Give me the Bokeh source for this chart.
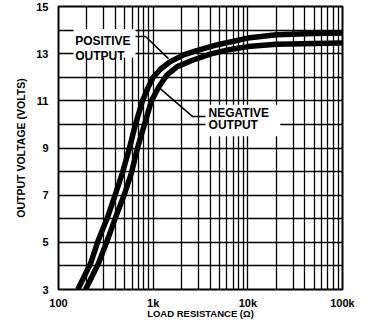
from bokeh.plotting import figure
from bokeh.models import FixedTicker, Label, BoxAnnotation, Range1d
from bokeh.embed import file_html
from bokeh.resources import INLINE

# ---- data ----
pos_r = [160, 218, 264, 329, 400, 474, 562, 650, 771, 880, 1000, 1200, 1500, 2100,
         3000, 4800, 10000, 20000, 50000, 100000]
pos_v = [3.0, 4.1, 5.1, 6.05, 7.05, 7.95, 9.0, 10.0, 11.0, 11.55, 12.0, 12.35, 12.65, 12.95,
         13.15, 13.38, 13.66, 13.8, 13.86, 13.88]

neg_r = [193, 264, 329, 400, 498, 590, 683, 809, 960, 1150, 1400, 1800, 2600, 4000,
         6500, 10000, 20000, 50000, 100000]
neg_v = [3.0, 4.1, 5.1, 6.05, 7.05, 7.95, 9.0, 10.0, 11.0, 11.6, 12.1, 12.45, 12.72, 12.98,
         13.18, 13.3, 13.4, 13.43, 13.45]

x_ticks = [100, 1000, 10000, 100000]
x_tick_labels = ["100", "1k", "10k", "100k"]
y_ticks = [3, 5, 7, 9, 11, 13, 15]
y_minor = [4, 6, 8, 10, 12, 14]
x_minor = [k * d for d in (100, 1000, 10000) for k in range(2, 10)]

x_title = "LOAD RESISTANCE (\u03a9)"
y_title = "OUTPUT VOLTAGE (VOLTS)"

FONT = "Liberation Sans"

p = figure(width=369, height=332, x_axis_type="log",
           x_range=Range1d(100, 100000), y_range=Range1d(3, 15),
           output_backend="svg", toolbar_location=None,
           min_border_left=58, min_border_right=27, min_border_top=6, min_border_bottom=43)

p.background_fill_color = "white"
p.border_fill_color = "white"
p.outline_line_color = "black"
p.outline_line_width = 2

p.xaxis.ticker = FixedTicker(ticks=x_ticks, minor_ticks=x_minor)
p.yaxis.ticker = FixedTicker(ticks=y_ticks, minor_ticks=y_minor)
p.xaxis.major_label_overrides = {t: l for t, l in zip(x_ticks, x_tick_labels)}

for ax in (p.xaxis, p.yaxis):
    ax.axis_line_color = None
    ax.major_tick_line_color = None
    ax.minor_tick_line_color = None
    ax.major_tick_out = 0
    ax.major_tick_in = 0
    ax.minor_tick_out = 0
    ax.minor_tick_in = 0
    ax.major_label_text_font = FONT
    ax.major_label_text_font_style = "bold"
    ax.major_label_text_font_size = "11px"
    ax.major_label_text_color = "black"
    ax.axis_label_text_font = FONT
    ax.axis_label_text_font_style = "bold"
    ax.axis_label_text_color = "black"

p.xaxis.major_label_standoff = 7
p.yaxis.major_label_standoff = 10
p.xaxis.axis_label = x_title
p.yaxis.axis_label = y_title
p.xaxis.axis_label_text_font_size = "9.5px"
p.yaxis.axis_label_text_font_size = "10.5px"
p.xaxis.axis_label_standoff = -4
p.yaxis.axis_label_standoff = 6

for g in (p.xgrid, p.ygrid):
    g.grid_line_color = "black"
    g.grid_line_width = 1.3
    g.grid_line_alpha = 1
    g.minor_grid_line_color = "black"
    g.minor_grid_line_width = 1.3
    g.minor_grid_line_alpha = 1

# curves
p.line(pos_r, pos_v, line_color="black", line_width=5.5, line_join="round")
p.line(neg_r, neg_v, line_color="black", line_width=5.5, line_join="round")

# label backgrounds (hide grid under text)
p.add_layout(BoxAnnotation(left=144, right=651, bottom=12.83, top=14.05,
                           fill_color="white", fill_alpha=1, line_color=None))
p.add_layout(BoxAnnotation(left=3570, right=22000, bottom=9.5, top=10.83,
                           fill_color="white", fill_alpha=1, line_color=None))

# leader lines
p.line([606, 830, 1450], [13.73, 13.73, 12.79], line_color="black", line_width=1.5)
p.line([1138, 2595, 3730], [11.58, 10.34, 10.34], line_color="black", line_width=1.5)

def lab(x, y, t):
    p.add_layout(Label(x=x, y=y, text=t, text_font=FONT, text_font_style="bold",
                       text_font_size="12px", text_color="black",
                       text_baseline="alphabetic", text_align="left"))

lab(150, 13.52, "POSITIVE")
lab(150, 12.92, "OUTPUT")
lab(3850, 10.5, "NEGATIVE")
lab(3850, 9.96, "OUTPUT")

open("out.html", "w").write(file_html(p, INLINE))
